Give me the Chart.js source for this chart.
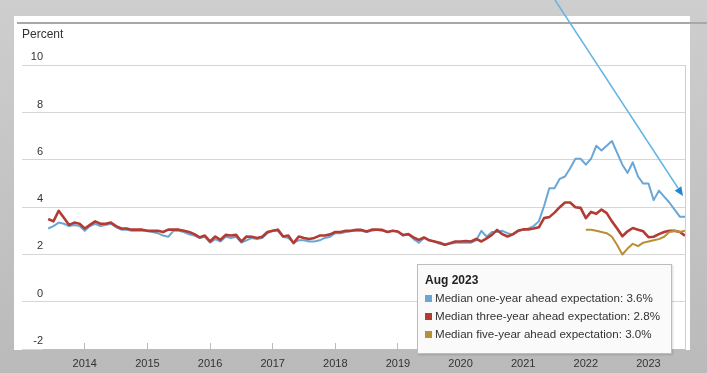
<!DOCTYPE html>
<html>
  <head>
    <title>Inflation expectations</title>
    <meta charset="UTF-8">
    <script src="https://cdn.jsdelivr.net/npm/chart.js@4/dist/chart.umd.min.js"></script>
    <style type="text/css">
      body {
        margin: 0;
        width: 707px;
        height: 373px;
        overflow: hidden;
        position: relative;
        background: linear-gradient(#cecece, #bababa);
        font-family: "Liberation Sans", Arial, sans-serif;
      }
      #panel { position: absolute; left: 14px; top: 16px; width: 676px; height: 334px; background: #fff; }
      #rule { position: absolute; left: 17px; right: 0; top: 22px; height: 2px; background: #a8a8a8; }
      #chart { position: absolute; left: 0; top: 0; }
      #arrow { position: absolute; left: 0; top: 0; }
      #legend {
        position: absolute; left: 417px; top: 264px; width: 246px; height: 81px;
        padding: 7px 0 0 7px;
        background: #fafafa; border: 1px solid #bdbdbd;
        box-shadow: 1px 1px 2px rgba(0,0,0,0.15);
        font-size: 11.6px; color: #333;
      }
      #legend .head { font-weight: bold; font-size: 12px; color: #222; height: 17px; line-height: 17px; }
      #legend .row { height: 18px; line-height: 18px; white-space: nowrap; }
      #legend .sq { display: inline-block; width: 7px; height: 7px; margin-right: 3px; }
    </style>
  </head>
  <body>
    <div id="panel"></div>
    <div id="rule"></div>
    <canvas id="chart" width="707" height="373"></canvas>

    <!-- annotation arrow from the video -->
    <svg id="arrow" width="707" height="373">
      <line x1="555" y1="0" x2="678" y2="188" stroke="#62b6e2" stroke-width="1.5"/>
      <polygon points="683,196 674.7,190.7 681.3,186.3" fill="#1f86d6"/>
    </svg>

    <div id="legend"></div>

    <script type="text/javascript">
      // monthly survey, first point Jun 2013
      const startYear = 2013, startMonth = 6
      const fiveYearStart = [2022, 1]
      const yearLabels = ['2014', '2015', '2016', '2017', '2018', '2019', '2020', '2021', '2022', '2023']
      const yTicks = [-2, 0, 2, 4, 6, 8, 10]
      const latestMonth = 'Aug 2023'
      const seriesNames = [
        'Median one-year ahead expectation',
        'Median three-year ahead expectation',
        'Median five-year ahead expectation'
      ]
      const seriesColours = ['#6aa6d6', '#b23b34', '#b98f36']

      const oneYear = [
        3.1, 3.2, 3.35, 3.3, 3.2, 3.25, 3.2,
        3.0, 3.2, 3.3, 3.2, 3.25, 3.3, 3.15, 3.05, 3.05, 3.0, 3.0, 3.0,
        3.0, 2.95, 2.9, 2.8, 2.75, 3.0, 3.0, 2.95, 2.85, 2.8, 2.7, 2.75,
        2.5, 2.65, 2.55, 2.75, 2.7, 2.75, 2.5, 2.6, 2.7, 2.65, 2.7, 2.9,
        3.0, 3.0, 2.75, 2.7, 2.5, 2.6, 2.6, 2.55, 2.55, 2.6, 2.7, 2.75,
        2.9, 2.9, 2.95, 3.0, 3.0, 3.0, 2.95, 3.0, 3.05, 3.0, 2.95, 3.0,
        2.95, 2.8, 2.85, 2.65, 2.5, 2.7, 2.6, 2.55, 2.45, 2.4, 2.45, 2.5,
        2.5, 2.5, 2.5, 2.6, 3.0, 2.75, 2.95, 2.95, 3.0, 2.9, 2.85, 3.0,
        3.05, 3.1, 3.2, 3.4, 4.05, 4.8, 4.8, 5.2, 5.3, 5.65, 6.05, 6.05,
        5.8, 6.05, 6.6, 6.4, 6.6, 6.8, 6.3, 5.8, 5.45, 5.9, 5.3, 5.0,
        5.0, 4.3, 4.7, 4.45, 4.2, 3.9, 3.6, 3.6
      ]
      const threeYear = [
        3.5, 3.4, 3.85, 3.55, 3.25, 3.35, 3.3,
        3.1, 3.25, 3.4, 3.3, 3.3, 3.35, 3.2, 3.1, 3.1, 3.05, 3.05, 3.05,
        3.0, 3.0, 3.0, 2.95, 3.05, 3.05, 3.05, 3.0, 2.95, 2.86, 2.72, 2.8,
        2.55, 2.76, 2.62, 2.83, 2.8, 2.83, 2.55, 2.76, 2.75, 2.7, 2.75, 2.95,
        3.0, 3.05, 2.76, 2.8, 2.48, 2.76, 2.7, 2.65, 2.7, 2.8, 2.8, 2.85,
        2.95, 2.95, 3.0, 3.0, 3.04, 3.04, 2.97, 3.05, 3.05, 3.04, 2.95, 3.0,
        2.97, 2.82, 2.86, 2.72, 2.62, 2.72, 2.6, 2.55, 2.5, 2.41, 2.48, 2.55,
        2.55, 2.57, 2.55, 2.66, 2.55, 2.68, 2.83, 3.04, 2.86, 2.76, 2.85, 3.0,
        3.06, 3.06, 3.1, 3.15, 3.54, 3.58, 3.77, 4.0, 4.2, 4.2, 4.0, 3.97,
        3.54, 3.8, 3.72, 3.9, 3.75, 3.4, 3.1, 2.77, 2.98, 3.12, 3.05, 2.98,
        2.73, 2.75, 2.86, 2.95, 3.0, 3.0, 2.95, 2.8
      ]
      const fiveYear = [
        3.05, 3.05, 3.0, 2.95, 2.9, 2.75, 2.4, 2.0, 2.25, 2.45, 2.35, 2.5,
        2.55, 2.6, 2.65, 2.75, 2.95, 3.0, 2.95, 3.0
      ]

      // month index -> fractional year on the linear axis
      toPoints = (vals, y0, m0) => vals.map((v, i) => ({ x: y0 + (m0 - 1 + i) / 12, y: v }))

      const series = [
        toPoints(oneYear, startYear, startMonth),
        toPoints(threeYear, startYear, startMonth),
        toPoints(fiveYear, fiveYearStart[0], fiveYearStart[1])
      ]
      const widths = [2, 2.6, 2]
      const drawOrder = [2, 1, 0]
      const gridColour = '#d6d6d6'

      var ctx = document.getElementById('chart')

      var lineChart = new Chart(ctx, {
        type: 'line',
        data: {
          datasets: series.map((pts, i) => ({
            label: seriesNames[i],
            data: pts,
            borderColor: seriesColours[i],
            backgroundColor: seriesColours[i],
            borderWidth: widths[i],
            borderJoinStyle: 'round',
            pointRadius: 0,
            tension: 0,
            order: drawOrder[i]
          }))
        },
        options: {
          responsive: false,
          animation: false,
          devicePixelRatio: 1,
          layout: { padding: { left: 22, right: 22, top: 27, bottom: 0 } },
          plugins: {
            legend: { display: false },
            tooltip: { enabled: false },
            title: {
              display: true,
              text: 'Percent',
              align: 'start',
              color: '#333',
              font: { family: 'Liberation Sans', size: 12, weight: 'normal' },
              padding: { top: 0, bottom: 24 }
            }
          },
          scales: {
            x: {
              type: 'linear',
              min: startYear + 4 / 12,
              max: 2023 + 7 / 12,
              afterBuildTicks: s => { s.ticks = yearLabels.map(y => ({ value: +y })) },
              afterFit: s => { s.height = 24 },
              border: { display: true, color: '#bcbcbc' },
              grid: { drawOnChartArea: false, drawTicks: true, tickLength: -6, color: '#bcbcbc' },
              ticks: {
                autoSkip: false, maxRotation: 0, padding: 14,
                color: '#333',
                font: { family: 'Liberation Sans', size: 11 },
                callback: v => String(v)
              }
            },
            y: {
              min: -2,
              max: 10,
              afterBuildTicks: s => { s.ticks = yTicks.map(v => ({ value: v })) },
              // labels sit over the grid line stubs, above each line
              afterFit: s => { s.width = 21 },
              border: { display: false },
              grid: { color: gridColour, drawTicks: true, tickLength: 21 },
              ticks: {
                autoSkip: false,
                padding: -21, labelOffset: -8,
                color: '#333',
                font: { family: 'Liberation Sans', size: 11 }
              }
            },
            yr: {
              position: 'right',
              min: -2,
              max: 10,
              afterFit: s => { s.width = 0 },
              grid: { display: false },
              ticks: { display: false },
              border: { display: true, color: '#cfcfcf' }
            }
          }
        }
      })

      // legend box, built from the same arrays
      const latest = [oneYear, threeYear, fiveYear].map(a => a[a.length - 1])
      const legend = document.getElementById('legend')
      legend.innerHTML = '<div class="head">' + latestMonth + '</div>' +
        seriesNames.map((n, i) =>
          '<div class="row"><span class="sq" style="background:' + seriesColours[i] + '"></span>' +
          n + ': ' + latest[i].toFixed(1) + '%</div>'
        ).join('')
    </script>
  </body>
</html>
